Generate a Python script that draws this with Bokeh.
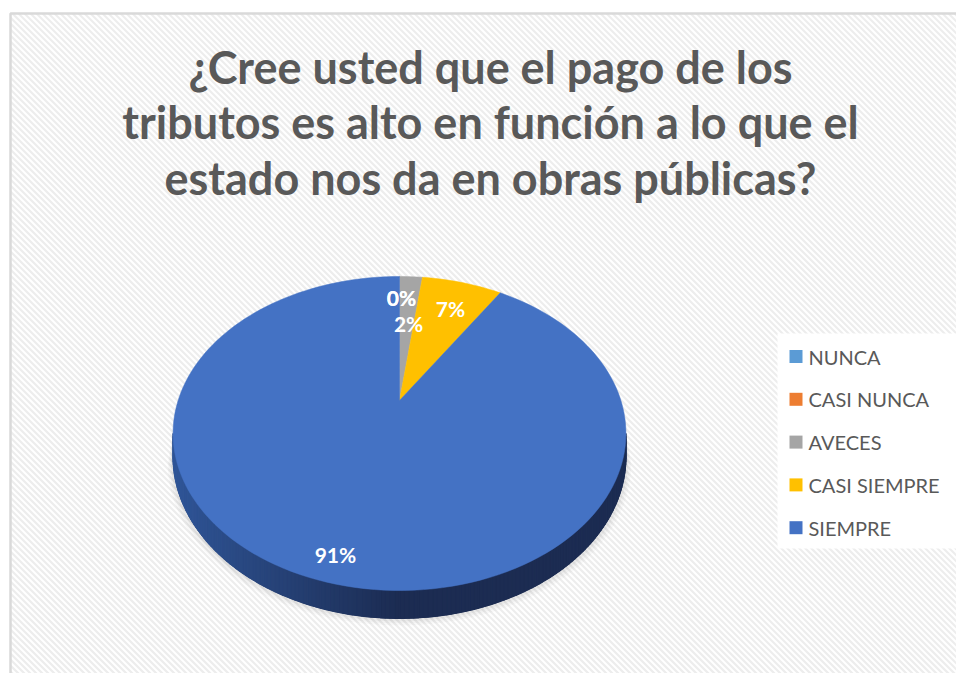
import math
from bokeh.plotting import figure
from bokeh.models import Range1d
from bokeh.core.properties import value
from bokeh.embed import file_html
from bokeh.resources import INLINE

# ---------------- data ----------------
title_lines = ["¿Cree usted que el pago de los",
               "tributos es alto en función a lo que el",
               "estado nos da en obras públicas?"]
categories = ["NUNCA", "CASI NUNCA", "AVECES", "CASI SIEMPRE", "SIEMPRE"]
percents = [0, 0, 2, 7, 91]
colors = ["#5B9BD5", "#ED7D31", "#A5A5A5", "#FFC000", "#4472C4"]
label_radius = [0.80, 0.80, 0.575, 0.75, 0.88]

# ---------------- geometry (pixel space of the page image) ----------------
W, H = 956, 673
CX, CY = 399.0, 400.0      # projected pie centre
A, B = 221.4, 150.1        # projected radii before perspective
K = 0.21                   # perspective strength
DEPTH = 22.0

def proj(r, phi_deg):
    ph = math.radians(phi_deg)
    u = r * math.sin(ph)
    v = -r * math.cos(ph)
    w = 1.0 - K * v
    return CX + A * u / w, CY + B * v / w, w

p = figure(width=W, height=H, output_backend="svg", toolbar_location=None,
           x_range=Range1d(0, W), y_range=Range1d(H, 0),
           min_border=0, background_fill_color="white", border_fill_color="white")
p.axis.visible = False
p.grid.visible = False
p.outline_line_color = None

# chart area background: diagonal stripes
L, T, R, Bt = 10, 13, W + 10, H + 10
hx0, hx1 = [], []
hy0, hy1 = [], []
c = L - Bt
while c < R - T:
    ys = max(T, L - c); ye = min(Bt, R - c)
    if ys < ye:
        hx0.append(ys + c); hy0.append(ys); hx1.append(ye + c); hy1.append(ye)
    c += 6
p.segment(x0=hx0, y0=hy0, x1=hx1, y1=hy1, line_color="#ededed", line_width=2.2)
p.quad(left=L, right=R, top=T, bottom=Bt, fill_color=None,
       line_color="#d9d9d9", line_width=2.5)

# title
for i, t in enumerate(title_lines):
    p.text(x=[490], y=[66 + 55.5 * i], text=[t], text_align="center",
           text_baseline="alphabetic",
           text_font=value("Lato"), text_font_style="bold", text_font_size="45px",
           text_color="#595959")

# shadow
front = [102.1 + i * (257.9 - 102.1) / 160 for i in range(161)]
for k, a in [(7, 0.05), (5, 0.06), (3, 0.08)]:
    xs, ys = [], []
    for ph in front:
        x, y, w = proj(1.0, ph)
        xs.append(x + (x - CX) * 0.01 * k / 3); ys.append(y + DEPTH / w + k)
    for ph in reversed(front):
        x, y, w = proj(1.0, ph)
        xs.append(x); ys.append(y)
    p.patch(xs, ys, fill_color="#808080", fill_alpha=a, line_color=None)

# side of pie: solid dark base, then gradient strips
def side_color(x):
    t = (x - 172) / (625 - 172)
    c0 = (0x30, 0x56, 0x98); c1 = (0x1c, 0x2c, 0x52)
    s = min(1.0, max(0.0, t / 0.5))
    cc = tuple(int(c0[j] + (c1[j] - c0[j]) * s) for j in range(3))
    return "#%02x%02x%02x" % cc

bx, by = [], []
for ph in front:
    x, y, w = proj(1.0, ph)
    bx.append(x); by.append(y + DEPTH / w)
for ph in reversed(front):
    x, y, w = proj(1.0, ph)
    bx.append(x); by.append(y)
p.patch(bx, by, fill_color="#1c2c52", line_color="#1c2c52", line_width=0.5)

sx, sy, sc = [], [], []
for i in range(len(front) - 1):
    x0, y0, w0 = proj(1.0, front[i]); x1, y1, w1 = proj(1.0, front[i + 1])
    sx.append([x0, x1, x1, x0]); sy.append([y0, y1, y1 + DEPTH / w1, y0 + DEPTH / w0])
    sc.append(side_color((x0 + x1) / 2))
p.patches(sx, sy, fill_color=sc, line_color=sc, line_width=1.2)

# top face slices
total = sum(percents)
cum = 0.0
px, py, pc = [], [], []
for val, col in zip(percents, colors):
    start = cum / total * 360.0
    cum += val
    end = cum / total * 360.0
    if val <= 0:
        continue
    n = max(4, int((end - start) / 2))
    xs, ys = [CX], [CY]
    for j in range(n + 1):
        x, y, _ = proj(1.0, start + (end - start) * j / n)
        xs.append(x); ys.append(y)
    px.append(xs); py.append(ys); pc.append(col)
p.patches(px, py, fill_color=pc, line_color=pc, line_width=0.5)

# data labels
cum = 0.0
lx, ly, lt = [], [], []
for val, r in zip(percents, label_radius):
    mid = (cum + val / 2) / total * 360.0
    cum += val
    x, y, _ = proj(r, mid)
    lx.append(x + 2); ly.append(y); lt.append("%d%%" % round(val / total * 100))
p.text(x=lx, y=ly, text=lt, text_align="center", text_baseline="middle",
       text_font=value("Lato"), text_font_style="bold", text_font_size="21px",
       text_color="white")

# legend
p.quad(left=777, right=R, top=333, bottom=548, fill_color="white", line_color=None)
ly0, dy = 356, 42.8
leg_y = [ly0 + i * dy for i in range(len(categories))]
p.rect(x=[795.5] * len(categories), y=leg_y, width=13, height=13,
       fill_color=colors, line_color=None)
p.text(x=[808] * len(categories), y=leg_y, text=categories, text_align="left",
       text_baseline="middle", text_font=value("Lato"), text_font_size="20px",
       text_color="#595959")

open("out.html", "w").write(file_html(p, INLINE))
